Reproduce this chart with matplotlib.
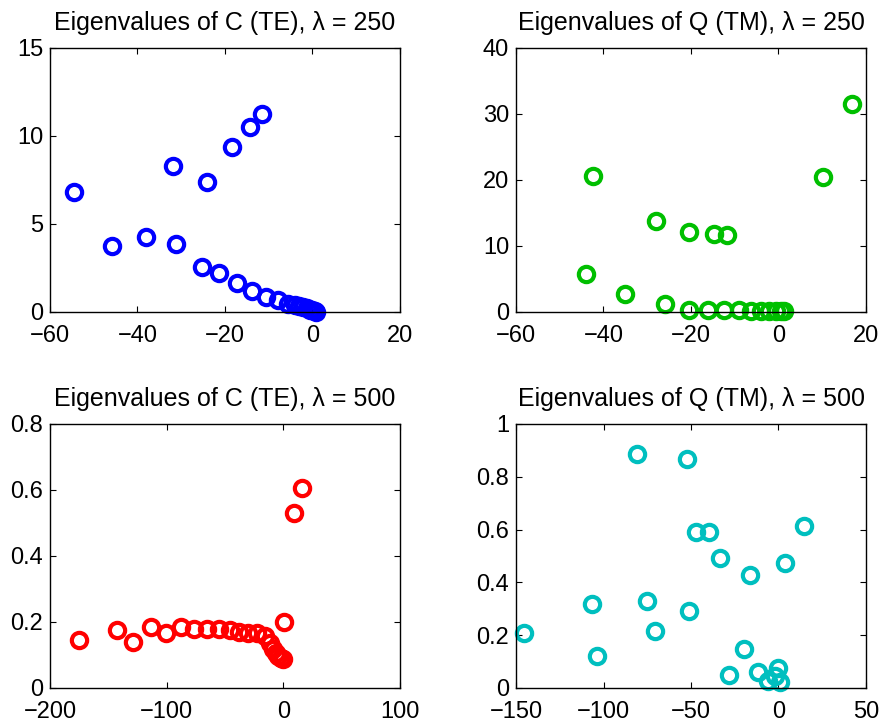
import matplotlib
matplotlib.use("Agg")
import matplotlib.pyplot as plt

plt.rcParams['font.family'] = ['Liberation Sans', 'DejaVu Sans']

# Panel 1: Eigenvalues of C (TE), lambda = 250
te250_re = [-54.5, -45.8, -38.1, -31.8, -31.2, -24.2, -25.2, -18.5, -21.4, -14.3,
            -11.5, -17.3, -13.9, -10.7, -7.8, -5.5, -4.0, -3.0, -2.1, -1.3,
            -0.6, 0.0, 0.5, 0.9]
te250_im = [6.8, 3.74, 4.27, 8.32, 3.85, 7.40, 2.58, 9.40, 2.24, 10.5,
            11.26, 1.63, 1.21, 0.88, 0.66, 0.45, 0.38, 0.32, 0.26, 0.20,
            0.14, 0.09, 0.05, 0.02]

# Panel 2: Eigenvalues of Q (TM), lambda = 250
tm250_re = [-42.5, -43.9, -35.1, -28.0, -25.9, -20.5, -20.4, -16.2, -14.7, -11.8,
            -12.4, -9.1, -6.3, -4.0, -2.1, -0.6, 0.6, 1.3, 10.1, 16.7]
tm250_im = [20.66, 5.82, 2.78, 13.77, 1.27, 12.15, 0.25, 0.35, 11.75, 11.6,
            0.25, 0.25, 0.15, 0.12, 0.1, 0.08, 0.08, 0.08, 20.5, 31.5]

# Panel 3: Eigenvalues of C (TE), lambda = 500
te500_re = [-175.2, -142.9, -128.6, -113.7, -100.7, -88.0, -76.5, -65.7, -55.4, -46.0,
            -38.0, -30.5, -22.9, -15.7, -11.5, -8.6, -6.2, -4.3, -2.0, 0.0,
            0.8, 9.1, 16.0]
te500_im = [0.146, 0.175, 0.139, 0.184, 0.167, 0.184, 0.179, 0.179, 0.178, 0.176,
            0.170, 0.167, 0.166, 0.158, 0.136, 0.117, 0.106, 0.098, 0.092, 0.089,
            0.201, 0.529, 0.606]

# Panel 4: Eigenvalues of Q (TM), lambda = 500
tm500_re = [-145.2, -106.6, -103.9, -81.0, -75.3, -70.6, -52.5, -51.0, -47.1, -39.9,
            -33.4, -16.3, -19.9, -28.3, -11.9, -6.2, -0.5, -1.8, 1.0, 3.9, 14.8]
tm500_im = [0.208, 0.319, 0.120, 0.885, 0.329, 0.215, 0.866, 0.291, 0.591, 0.591,
            0.494, 0.427, 0.146, 0.051, 0.060, 0.028, 0.075, 0.047, 0.024, 0.473, 0.614]

titles = ["Eigenvalues of C (TE), \u03bb = 250", "Eigenvalues of Q (TM), \u03bb = 250",
          "Eigenvalues of C (TE), \u03bb = 500", "Eigenvalues of Q (TM), \u03bb = 500"]
colors = ["#0000ff", "#00bf00", "#ff0000", "#00bfbf"]
xlims = [(-60, 20), (-60, 20), (-200, 100), (-150, 50)]
ylims = [(0, 15), (0, 40), (0, 0.8), (0, 1)]
xticks = [[-60, -40, -20, 0, 20], [-60, -40, -20, 0, 20], [-200, -100, 0, 100], [-150, -100, -50, 0, 50]]
yticks = [[0, 5, 10, 15], [0, 10, 20, 30, 40], [0, 0.2, 0.4, 0.6, 0.8], [0, 0.2, 0.4, 0.6, 0.8, 1]]
ytlabels = [["0", "5", "10", "15"], ["0", "10", "20", "30", "40"],
            ["0", "0.2", "0.4", "0.6", "0.8"], ["0", "0.2", "0.4", "0.6", "0.8", "1"]]
data = [(te250_re, te250_im), (tm250_re, tm250_im), (te500_re, te500_im), (tm500_re, tm500_im)]

W, H = 882, 724
fig = plt.figure(figsize=(W / 100, H / 100), dpi=100)
rects = [(50, 48), (516, 48), (50, 424), (516, 424)]
aw, ah = 350, 264

for i in range(4):
    x0, y0 = rects[i]
    ax = fig.add_axes([x0 / W, 1 - (y0 + ah) / H, aw / W, ah / H])
    xs, ys = data[i]
    ax.plot(xs, ys, linestyle='none', marker='o', markersize=11,
            markerfacecolor='none', markeredgecolor=colors[i], markeredgewidth=3.0,
            clip_on=False)
    ax.set_xlim(*xlims[i])
    ax.set_ylim(*ylims[i])
    ax.set_xticks(xticks[i])
    ax.set_yticks(yticks[i])
    ax.set_yticklabels(ytlabels[i])
    ax.tick_params(direction='in', top=True, right=True, length=4, width=0.8,
                   labelsize=17)
    ax.tick_params(axis='x', pad=9)
    ax.tick_params(axis='y', pad=5)
    for s in ax.spines.values():
        s.set_linewidth(1.0)
    ax.set_title(titles[i], fontsize=18, pad=13)

fig.savefig("out.png", dpi=100)
